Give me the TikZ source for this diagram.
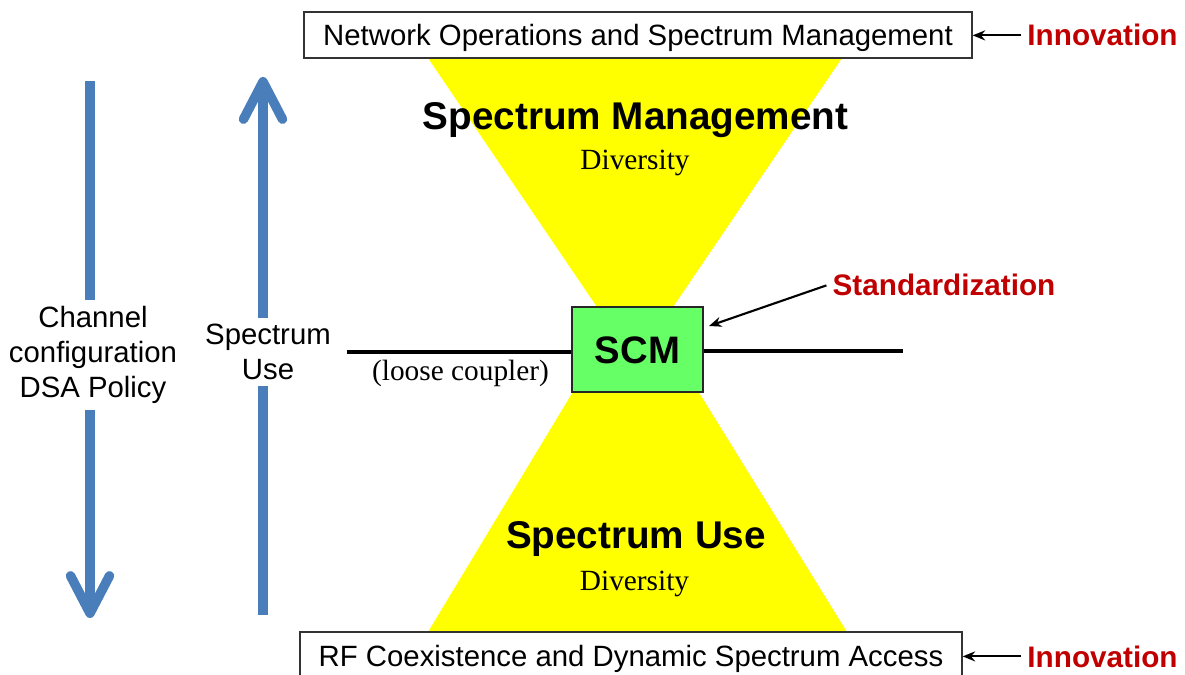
\documentclass[tikz,border=0pt]{standalone}
\usepackage{fontspec}
\setmainfont{Liberation Sans}
\newfontfamily\timesfont{Liberation Serif}
\usepackage{tikz}
\usetikzlibrary{arrows.meta, positioning}
\definecolor{flowblue}{RGB}{74,126,187}
\definecolor{innored}{RGB}{192,0,0}
\definecolor{scmgreen}{RGB}{102,255,102}
\definecolor{hourglass}{RGB}{255,255,0}

\begin{document}
\begin{tikzpicture}[
    x=0.02cm, y=-0.02cm,
    layer/.style={rectangle, draw=black!80, line width=0.8pt, fill=white, inner sep=0pt, font=\fontsize{16.7}{20}\selectfont, text height=12pt, text depth=0pt},
    hub/.style={rectangle, draw=black!85, line width=0.8pt, fill=scmgreen, minimum width=2.62cm, minimum height=1.7cm, font=\fontsize{21.8}{26}\selectfont\bfseries, text height=15.6pt, text depth=0pt},
    big/.style={font=\fontsize{22}{26}\selectfont\bfseries, anchor=base},
    div/.style={font=\fontsize{16.7}{20}\selectfont\timesfont, anchor=base},
    redlbl/.style={font=\fontsize{16.9}{20}\selectfont\bfseries, text=innored, anchor=base},
    sidelbl/.style={font=\fontsize{16.7}{20.1}\selectfont, align=center},
    flow/.style={draw=flowblue, line width=5.4pt},
    flowarrow/.style={flow, -{Straight Barb[length=0.75cm, width=0.78cm, round]}},
    pointer/.style={->, >={Stealth[length=2.5mm, width=2mm]}, line width=1.2pt},
    bus/.style={line width=2pt}
  ]
  \useasboundingbox (0,0) rectangle (1185,675);

  % hourglass
  \fill[hourglass] (428,58) -- (842,58) -- (635,363) -- cycle;
  \fill[hourglass] (428,632) -- (847,632) -- (635,289) -- cycle;

  % layers
  \node[layer, minimum width=13.36cm, minimum height=0.92cm] (netops) at (638,35) {Network Operations and Spectrum Management};
  \node[layer, minimum width=13.24cm, minimum height=0.94cm] (rfacc) at (631,655.5) {RF Coexistence and Dynamic Spectrum Access};

  \node[big] (mgmt) at (635.5,130) {Spectrum Management};
  \node[div] (mgmtdiv) at (635,170) {Diversity};
  \node[big] (use) at (636,548) {Spectrum Use};
  \node[div] (usediv) at (634.5,590) {Diversity};

  % coupler
  \node[hub] (scm) at (637.5,349.5) {SCM};
  \node[div] (coupler) at (460.5,380) {(loose coupler)};
  \coordinate (busleft) at (347,352);
  \coordinate (busright) at (903,351);
  \draw[bus] (busleft) -- (busleft -| scm.west);
  \draw[bus] (scm.east |- busright) -- (busright);

  % red labels
  \node[redlbl] (innotop) at (1102.5,46) {Innovation};
  \node[redlbl] (innobot) at (1102.5,667) {Innovation};
  \node[redlbl] (stdz) at (944,296) {Standardization};
  \coordinate (stdtip) at (709,326);
  \draw[pointer] (innotop.west) -- (innotop.west -| netops.east);
  \draw[pointer] (innobot.west) -- (innobot.west -| rfacc.east);
  \draw[pointer] (stdz.west) -- (stdtip);

  % side flows
  \node[sidelbl] (chan) at (93,355) {Channel\\configuration\\DSA Policy};
  \node[sidelbl] (specuse) at (268,352) {Spectrum\\Use};
  \coordinate (chantop) at (90,81);
  \coordinate (chanbot) at (90,618);
  \coordinate (usetop) at (263,77);
  \coordinate (usebot) at (263,615);
  \draw[flow] (chantop) -- (chantop |- chan.north);
  \draw[flowarrow] (chanbot |- chan.south) -- (chanbot);
  \draw[flowarrow] (usetop |- specuse.north) -- (usetop);
  \draw[flow] (usebot |- specuse.south) -- (usebot);
\end{tikzpicture}
\end{document}
